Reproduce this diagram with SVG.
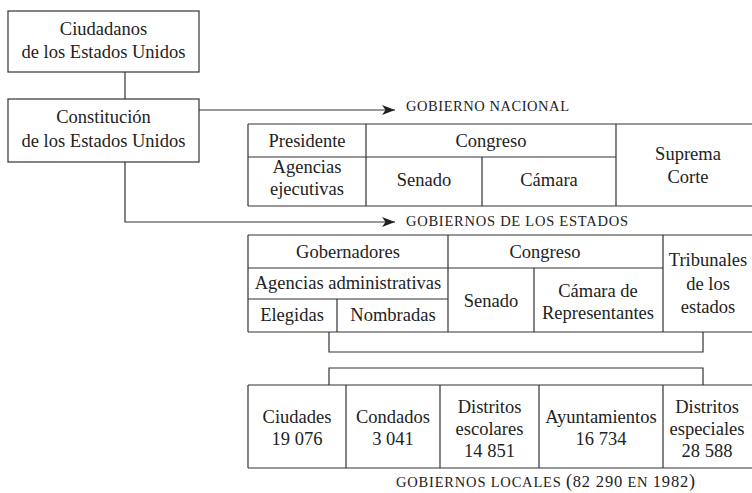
<svg xmlns="http://www.w3.org/2000/svg" width="752" height="493" viewBox="0 0 752 493">
<style>
  .ln { fill: none; stroke: #333; stroke-width: 1.2; }
  .bx { fill: #fff; stroke: #333; stroke-width: 1.2; }
  .t { font-family: "Liberation Serif", "Times New Roman", serif; font-size: 18.5px; fill: #222; text-anchor: middle; }
  .sc { font-family: "Liberation Serif", "Times New Roman", serif; font-size: 14.5px; fill: #222; }
</style>
<defs>
  <marker id="arr" markerUnits="userSpaceOnUse" markerWidth="14" markerHeight="12" refX="13" refY="5" orient="auto">
    <path d="M0,0 L13,5 L0,10 L3.5,5 z" fill="#222"/>
  </marker>
</defs>
<rect width="752" height="493" fill="#fff"/>

<g id="connectors">
  <path class="ln" d="M125,72 V99"/>
  <path class="ln" d="M199,110 H395" marker-end="url(#arr)"/>
  <path class="ln" d="M125,162 V222 H395" marker-end="url(#arr)"/>
  <path class="ln" d="M329,332 V352 H703 V332"/>
  <path class="ln" d="M329,385 V368 H703 V385"/>
</g>

<g id="ciudadanos">
  <rect class="bx" x="8" y="11" width="191" height="61"/>
  <text class="t" x="103.5" y="35">Ciudadanos</text>
  <text class="t" x="103.5" y="58">de los Estados Unidos</text>
</g>

<g id="constitucion">
  <rect class="bx" x="8" y="99" width="191" height="63"/>
  <text class="t" x="103.5" y="123">Constitución</text>
  <text class="t" x="103.5" y="147">de los Estados Unidos</text>
</g>

<g id="gobierno-nacional">
  <text class="sc" x="406" y="111" textLength="163" lengthAdjust="spacing">GOBIERNO NACIONAL</text>
  <path class="ln" d="M248,124 H752 M248,157 H616 M248,206 H752 M248,124 V206 M366,124 V206 M482,157 V206 M616,124 V206"/>
  <text class="t" x="307" y="147">Presidente</text>
  <text class="t" x="491" y="147">Congreso</text>
  <text class="t" x="307" y="173">Agencias</text>
  <text class="t" x="307" y="195">ejecutivas</text>
  <text class="t" x="424" y="186">Senado</text>
  <text class="t" x="549" y="186">Cámara</text>
  <text class="t" x="688" y="160">Suprema</text>
  <text class="t" x="688" y="183">Corte</text>
</g>

<g id="gobiernos-estados">
  <text class="sc" x="406" y="226" textLength="222" lengthAdjust="spacing">GOBIERNOS DE LOS ESTADOS</text>
  <path class="ln" d="M248,235 H752 M248,268 H663 M248,299 H448 M248,332 H752 M248,235 V332 M337,299 V332 M448,235 V332 M534,268 V332 M663,235 V332"/>
  <text class="t" x="348" y="258">Gobernadores</text>
  <text class="t" x="545" y="258">Congreso</text>
  <text class="t" x="348" y="289">Agencias administrativas</text>
  <text class="t" x="292" y="321">Elegidas</text>
  <text class="t" x="393" y="321">Nombradas</text>
  <text class="t" x="491" y="307">Senado</text>
  <text class="t" x="598" y="297">Cámara de</text>
  <text class="t" x="598" y="319">Representantes</text>
  <text class="t" x="708" y="266">Tribunales</text>
  <text class="t" x="708" y="290">de los</text>
  <text class="t" x="708" y="313">estados</text>
</g>

<g id="gobiernos-locales">
  <path class="ln" d="M248,385 H752 M248,468 H752 M248,385 V468 M346,385 V468 M440,385 V468 M539,385 V468 M663,385 V468"/>
  <text class="t" x="297" y="423">Ciudades</text>
  <text class="t" x="297" y="445">19 076</text>
  <text class="t" x="393" y="423">Condados</text>
  <text class="t" x="393" y="445">3 041</text>
  <text class="t" x="489.5" y="413">Distritos</text>
  <text class="t" x="489.5" y="435">escolares</text>
  <text class="t" x="489.5" y="457">14 851</text>
  <text class="t" x="601" y="423">Ayuntamientos</text>
  <text class="t" x="601" y="445">16 734</text>
  <text class="t" x="707" y="413">Distritos</text>
  <text class="t" x="707" y="435">especiales</text>
  <text class="t" x="707" y="457">28 588</text>
  <text class="sc" x="396" y="487" textLength="299" lengthAdjust="spacing">GOBIERNOS LOCALES <tspan font-size="18">(</tspan><tspan font-size="16.5">82 290</tspan> EN <tspan font-size="16.5">1982</tspan><tspan font-size="18">)</tspan></text>
</g>
</svg>
